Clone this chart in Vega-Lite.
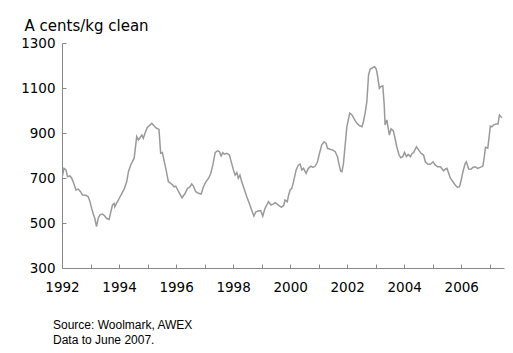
{
  "$schema": "https://vega.github.io/schema/vega-lite/v6.json",
  "autosize": "none",
  "width": 442,
  "height": 225,
  "padding": {"left": 62, "top": 43, "right": 9, "bottom": 85},
  "background": "white",
  "config": {"view": {"stroke": null}},
  "title": {
    "text": ["Source: Woolmark, AWEX", "Data to June 2007."],
    "orient": "bottom",
    "anchor": "start",
    "frame": "group",
    "dx": -9,
    "offset": 26,
    "font": "Liberation Sans",
    "fontSize": 12,
    "fontWeight": "normal",
    "lineHeight": 15,
    "color": "black"
  },
  "data": {"values": [
    {"t": 1992.0, "v": 700}, {"t": 1992.07, "v": 743}, {"t": 1992.14, "v": 736}, {"t": 1992.19, "v": 706},
    {"t": 1992.28, "v": 709}, {"t": 1992.34, "v": 699}, {"t": 1992.42, "v": 673}, {"t": 1992.49, "v": 647},
    {"t": 1992.57, "v": 651}, {"t": 1992.65, "v": 639}, {"t": 1992.72, "v": 624}, {"t": 1992.84, "v": 623},
    {"t": 1992.92, "v": 617}, {"t": 1992.98, "v": 595}, {"t": 1993.04, "v": 565}, {"t": 1993.09, "v": 543},
    {"t": 1993.15, "v": 521}, {"t": 1993.21, "v": 484}, {"t": 1993.27, "v": 521}, {"t": 1993.33, "v": 536},
    {"t": 1993.42, "v": 540}, {"t": 1993.5, "v": 531}, {"t": 1993.56, "v": 521}, {"t": 1993.65, "v": 516},
    {"t": 1993.7, "v": 543}, {"t": 1993.77, "v": 580}, {"t": 1993.83, "v": 587}, {"t": 1993.85, "v": 572},
    {"t": 1993.91, "v": 587}, {"t": 1994.01, "v": 610}, {"t": 1994.1, "v": 632}, {"t": 1994.19, "v": 654},
    {"t": 1994.27, "v": 684}, {"t": 1994.33, "v": 728}, {"t": 1994.41, "v": 758}, {"t": 1994.53, "v": 788},
    {"t": 1994.62, "v": 884}, {"t": 1994.68, "v": 869}, {"t": 1994.8, "v": 891}, {"t": 1994.85, "v": 876},
    {"t": 1994.91, "v": 899}, {"t": 1994.99, "v": 925}, {"t": 1995.09, "v": 936}, {"t": 1995.15, "v": 943},
    {"t": 1995.23, "v": 931}, {"t": 1995.32, "v": 921}, {"t": 1995.4, "v": 916}, {"t": 1995.46, "v": 810},
    {"t": 1995.52, "v": 813}, {"t": 1995.55, "v": 795}, {"t": 1995.65, "v": 736}, {"t": 1995.73, "v": 684},
    {"t": 1995.81, "v": 676}, {"t": 1995.88, "v": 669}, {"t": 1995.93, "v": 661}, {"t": 1995.99, "v": 664},
    {"t": 1996.09, "v": 639}, {"t": 1996.21, "v": 612}, {"t": 1996.32, "v": 632}, {"t": 1996.4, "v": 654},
    {"t": 1996.47, "v": 658}, {"t": 1996.55, "v": 673}, {"t": 1996.61, "v": 664}, {"t": 1996.69, "v": 639},
    {"t": 1996.79, "v": 632}, {"t": 1996.88, "v": 629}, {"t": 1996.96, "v": 661}, {"t": 1997.05, "v": 684},
    {"t": 1997.14, "v": 699}, {"t": 1997.22, "v": 721}, {"t": 1997.29, "v": 758}, {"t": 1997.37, "v": 813},
    {"t": 1997.45, "v": 821}, {"t": 1997.52, "v": 817}, {"t": 1997.58, "v": 798}, {"t": 1997.64, "v": 813},
    {"t": 1997.69, "v": 806}, {"t": 1997.78, "v": 810}, {"t": 1997.87, "v": 802}, {"t": 1997.95, "v": 765},
    {"t": 1998.01, "v": 736}, {"t": 1998.07, "v": 713}, {"t": 1998.13, "v": 724}, {"t": 1998.18, "v": 699},
    {"t": 1998.24, "v": 713}, {"t": 1998.3, "v": 684}, {"t": 1998.38, "v": 654}, {"t": 1998.48, "v": 617},
    {"t": 1998.57, "v": 587}, {"t": 1998.65, "v": 558}, {"t": 1998.73, "v": 531}, {"t": 1998.8, "v": 550},
    {"t": 1998.88, "v": 553}, {"t": 1998.97, "v": 555}, {"t": 1999.04, "v": 531}, {"t": 1999.12, "v": 565},
    {"t": 1999.18, "v": 580}, {"t": 1999.24, "v": 595}, {"t": 1999.33, "v": 580}, {"t": 1999.4, "v": 584},
    {"t": 1999.47, "v": 590}, {"t": 1999.55, "v": 584}, {"t": 1999.62, "v": 576}, {"t": 1999.7, "v": 570},
    {"t": 1999.78, "v": 580}, {"t": 1999.82, "v": 602}, {"t": 1999.9, "v": 595}, {"t": 1999.94, "v": 620},
    {"t": 2000.0, "v": 647}, {"t": 2000.06, "v": 654}, {"t": 2000.12, "v": 684}, {"t": 2000.21, "v": 736},
    {"t": 2000.29, "v": 758}, {"t": 2000.35, "v": 762}, {"t": 2000.41, "v": 736}, {"t": 2000.47, "v": 743},
    {"t": 2000.56, "v": 721}, {"t": 2000.64, "v": 743}, {"t": 2000.73, "v": 753}, {"t": 2000.8, "v": 747},
    {"t": 2000.88, "v": 753}, {"t": 2000.96, "v": 772}, {"t": 2001.03, "v": 810}, {"t": 2001.11, "v": 847},
    {"t": 2001.19, "v": 861}, {"t": 2001.26, "v": 854}, {"t": 2001.31, "v": 832}, {"t": 2001.4, "v": 828},
    {"t": 2001.5, "v": 824}, {"t": 2001.58, "v": 817}, {"t": 2001.66, "v": 795}, {"t": 2001.72, "v": 758},
    {"t": 2001.77, "v": 731}, {"t": 2001.82, "v": 728}, {"t": 2001.87, "v": 765}, {"t": 2001.93, "v": 847},
    {"t": 2001.99, "v": 928}, {"t": 2002.09, "v": 988}, {"t": 2002.17, "v": 980}, {"t": 2002.25, "v": 962},
    {"t": 2002.34, "v": 943}, {"t": 2002.44, "v": 932}, {"t": 2002.52, "v": 928}, {"t": 2002.57, "v": 950},
    {"t": 2002.63, "v": 988}, {"t": 2002.69, "v": 1039}, {"t": 2002.75, "v": 1158}, {"t": 2002.81, "v": 1184},
    {"t": 2002.89, "v": 1190}, {"t": 2002.96, "v": 1195}, {"t": 2003.02, "v": 1184}, {"t": 2003.06, "v": 1158},
    {"t": 2003.13, "v": 1099}, {"t": 2003.18, "v": 1106}, {"t": 2003.25, "v": 1110}, {"t": 2003.3, "v": 1024},
    {"t": 2003.33, "v": 936}, {"t": 2003.39, "v": 958}, {"t": 2003.48, "v": 891}, {"t": 2003.54, "v": 918},
    {"t": 2003.62, "v": 909}, {"t": 2003.68, "v": 876}, {"t": 2003.74, "v": 839}, {"t": 2003.82, "v": 802},
    {"t": 2003.88, "v": 790}, {"t": 2003.95, "v": 795}, {"t": 2004.01, "v": 814}, {"t": 2004.08, "v": 795},
    {"t": 2004.14, "v": 805}, {"t": 2004.22, "v": 795}, {"t": 2004.28, "v": 810}, {"t": 2004.33, "v": 813},
    {"t": 2004.43, "v": 839}, {"t": 2004.51, "v": 824}, {"t": 2004.59, "v": 810}, {"t": 2004.68, "v": 802},
    {"t": 2004.74, "v": 772}, {"t": 2004.82, "v": 762}, {"t": 2004.92, "v": 761}, {"t": 2005.01, "v": 772},
    {"t": 2005.09, "v": 758}, {"t": 2005.17, "v": 750}, {"t": 2005.27, "v": 750}, {"t": 2005.38, "v": 732},
    {"t": 2005.44, "v": 739}, {"t": 2005.5, "v": 743}, {"t": 2005.56, "v": 721}, {"t": 2005.62, "v": 699},
    {"t": 2005.71, "v": 684}, {"t": 2005.79, "v": 669}, {"t": 2005.87, "v": 658}, {"t": 2005.94, "v": 661},
    {"t": 2006.0, "v": 691}, {"t": 2006.06, "v": 728}, {"t": 2006.14, "v": 765}, {"t": 2006.18, "v": 772},
    {"t": 2006.26, "v": 740}, {"t": 2006.34, "v": 739}, {"t": 2006.41, "v": 747}, {"t": 2006.49, "v": 750},
    {"t": 2006.57, "v": 743}, {"t": 2006.67, "v": 747}, {"t": 2006.76, "v": 753}, {"t": 2006.81, "v": 795},
    {"t": 2006.85, "v": 836}, {"t": 2006.93, "v": 832}, {"t": 2006.98, "v": 884}, {"t": 2007.02, "v": 931},
    {"t": 2007.08, "v": 928}, {"t": 2007.14, "v": 936}, {"t": 2007.23, "v": 940}, {"t": 2007.29, "v": 940},
    {"t": 2007.34, "v": 980}, {"t": 2007.39, "v": 972}, {"t": 2007.43, "v": 968}
  ]},
  "mark": {"type": "line", "color": "#9a9a9a", "strokeWidth": 1.5, "clip": true},
  "encoding": {
    "x": {
      "field": "t", "type": "quantitative",
      "scale": {"domain": [1992, 2007.5], "nice": false, "zero": false},
      "axis": {
        "title": null,
        "values": [1992, 1993, 1994, 1995, 1996, 1997, 1998, 1999, 2000, 2001, 2002, 2003, 2004, 2005, 2006, 2007],
        "labelExpr": "datum.value % 2 == 0 ? format(datum.value, 'd') : ''",
        "grid": false,
        "domainColor": "#888888",
        "tickColor": "#888888",
        "tickSize": -4,
        "labelPadding": 16,
        "labelFont": "DejaVu Sans",
        "labelFontSize": 13.5,
        "labelColor": "black",
        "labelFlush": false,
        "labelOverlap": false
      }
    },
    "y": {
      "field": "v", "type": "quantitative",
      "scale": {"domain": [300, 1300], "nice": false, "zero": false},
      "axis": {
        "values": [300, 500, 700, 900, 1100, 1300],
        "format": "d",
        "title": "A cents/kg clean",
        "titleAngle": 0,
        "titleAlign": "left",
        "titleBaseline": "alphabetic",
        "titleX": -38,
        "titleY": -13,
        "titleFont": "DejaVu Sans",
        "titleFontSize": 15,
        "titleFontWeight": "normal",
        "titleColor": "black",
        "grid": false,
        "domainColor": "#888888",
        "tickColor": "#888888",
        "tickSize": -4,
        "labelPadding": 11,
        "labelFont": "DejaVu Sans",
        "labelFontSize": 13.5,
        "labelColor": "black",
        "labelFlush": false,
        "labelOverlap": false
      }
    }
  }
}
